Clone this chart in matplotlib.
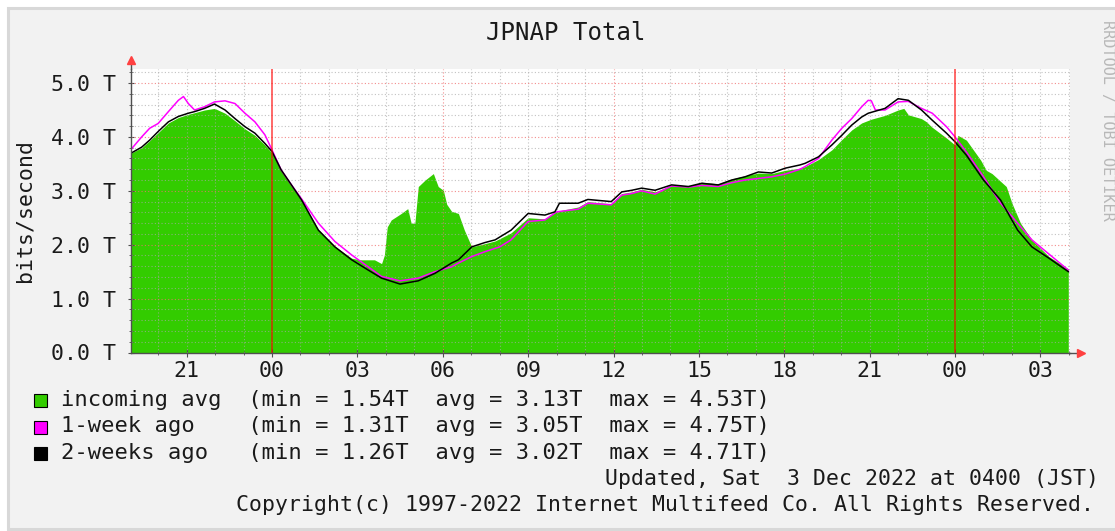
import matplotlib
matplotlib.use("Agg")
import matplotlib.pyplot as plt
from matplotlib.patches import Rectangle

# ---------------- data (hours relative to first midnight, values in Tbit/s) -------------
incoming_hours = [-4.95, -4.58, -4.30, -4.0, -3.64, -3.29, -2.94, -2.72, -2.37, -2.02, -1.65,
                  -1.30, -0.95, -0.60, -0.25, 0.0, 0.32, 0.67, 1.04, 1.63, 2.21, 2.80, 3.1,
                  3.6, 3.85, 3.95, 4.05, 4.19, 4.54, 4.77, 4.89, 5.02, 5.14, 5.38, 5.67,
                  5.84, 6.02, 6.14, 6.31, 6.55, 6.76, 6.96, 7.02, 7.48, 7.84, 8.4, 9.0,
                  9.59, 10.0, 10.76, 11.1, 11.92, 12.29, 12.64, 12.99, 13.46, 14.04, 14.63,
                  15.1, 15.68, 16.15, 16.62, 17.09, 17.56, 18.03, 18.55, 18.73, 19.2, 19.67,
                  20.02, 20.37, 20.72, 21.06, 21.54, 22.0, 22.2, 22.36, 22.82, 23.0, 23.17,
                  23.7, 24.0, 24.1, 24.4, 24.9, 25.1, 25.3, 25.8, 26.0, 26.3, 26.7, 27.3,
                  27.98]
incoming_tbps = [3.70, 3.80, 3.93, 4.08, 4.26, 4.36, 4.42, 4.45, 4.50, 4.53, 4.44,
                 4.30, 4.15, 4.03, 3.85, 3.70, 3.38, 3.10, 2.82, 2.28, 1.97, 1.75, 1.72,
                 1.72, 1.65, 1.81, 2.33, 2.46, 2.58, 2.67, 2.40, 2.40, 3.08, 3.20, 3.32,
                 3.08, 3.01, 2.75, 2.62, 2.58, 2.27, 2.03, 1.96, 2.02, 2.07, 2.22, 2.50,
                 2.48, 2.62, 2.70, 2.80, 2.76, 2.95, 2.98, 3.03, 2.98, 3.10, 3.08,
                 3.16, 3.13, 3.22, 3.28, 3.33, 3.32, 3.38, 3.42, 3.45, 3.58, 3.76,
                 3.95, 4.13, 4.26, 4.33, 4.40, 4.50, 4.53, 4.41, 4.34, 4.28, 4.19,
                 3.98, 3.85, 4.03, 3.94, 3.57, 3.38, 3.32, 3.08, 2.77, 2.40, 2.09, 1.78,
                 1.55]

week1_hours = [-4.95, -4.58, -4.30, -4.0, -3.64, -3.29, -3.11, -2.94, -2.72, -2.37, -2.02,
               -1.65, -1.30, -0.95, -0.60, -0.25, 0.0, 0.32, 0.67, 1.04, 1.63, 2.21, 2.80,
               3.38, 3.85, 4.5, 5.14, 5.73, 6.31, 6.55, 7.02, 7.48, 8.0, 8.4, 9.0, 9.59,
               10.0, 10.76, 11.1, 11.92, 12.29, 12.64, 12.99, 13.46, 14.04, 14.63, 15.1,
               15.68, 16.15, 16.62, 17.09, 17.56, 18.03, 18.55, 18.73, 19.2, 19.67, 20.02,
               20.37, 20.72, 20.95, 21.06, 21.2, 21.54, 22.0, 22.36, 22.82, 23.2, 23.7,
               24.0, 24.4, 25.0, 25.6, 26.2, 26.7, 27.2, 27.98]
week1_tbps = [3.77, 4.00, 4.16, 4.25, 4.47, 4.68, 4.75, 4.62, 4.50, 4.56, 4.65,
              4.67, 4.62, 4.44, 4.28, 4.04, 3.76, 3.39, 3.12, 2.85, 2.40, 2.06, 1.81,
              1.59, 1.41, 1.33, 1.38, 1.50, 1.59, 1.66, 1.78, 1.87, 1.96, 2.09, 2.43, 2.46,
              2.61, 2.66, 2.77, 2.74, 2.92, 2.95, 3.00, 2.94, 3.09, 3.07, 3.10,
              3.08, 3.15, 3.20, 3.23, 3.26, 3.31, 3.40, 3.45, 3.60, 3.94, 4.16,
              4.34, 4.56, 4.68, 4.67, 4.50, 4.50, 4.65, 4.66, 4.53, 4.44, 4.19,
              4.00, 3.72, 3.26, 2.77, 2.40, 2.09, 1.87, 1.53]

week2_hours = [-4.95, -4.58, -4.30, -4.0, -3.64, -3.29, -2.94, -2.72, -2.37, -2.02, -1.65,
               -1.30, -0.95, -0.60, -0.25, 0.0, 0.32, 0.67, 1.04, 1.63, 2.21, 2.80, 3.38,
               3.85, 4.5, 5.14, 5.73, 6.31, 6.55, 7.02, 7.48, 7.84, 8.4, 9.0, 9.59, 9.94,
               10.1, 10.76, 11.1, 11.92, 12.29, 12.64, 12.99, 13.46, 14.04, 14.63, 15.1,
               15.68, 16.15, 16.62, 17.09, 17.56, 18.03, 18.55, 18.73, 19.2, 19.67, 20.02,
               20.37, 20.72, 20.95, 21.54, 22.0, 22.36, 22.82, 23.2, 23.7, 24.0, 24.4,
               25.0, 25.6, 26.2, 26.7, 27.3, 27.98]
week2_tbps = [3.70, 3.81, 3.94, 4.10, 4.28, 4.38, 4.44, 4.47, 4.53, 4.61, 4.50,
              4.34, 4.19, 4.07, 3.88, 3.73, 3.39, 3.12, 2.83, 2.27, 1.96, 1.72, 1.53,
              1.38, 1.27, 1.33, 1.47, 1.66, 1.72, 1.96, 2.04, 2.09, 2.27, 2.58, 2.55, 2.61,
              2.77, 2.77, 2.84, 2.80, 2.98, 3.01, 3.05, 3.01, 3.11, 3.08, 3.14,
              3.11, 3.20, 3.26, 3.35, 3.33, 3.42, 3.48, 3.51, 3.63, 3.85, 4.03,
              4.22, 4.37, 4.44, 4.53, 4.71, 4.68, 4.50, 4.31, 4.07, 3.91, 3.66,
              3.20, 2.83, 2.27, 1.96, 1.75, 1.50]

x_tick_hours = [-3, 0, 3, 6, 9, 12, 15, 18, 21, 24, 27]
x_tick_labels = ["21", "00", "03", "06", "09", "12", "15", "18", "21", "00", "03"]
y_tick_values = [0, 1, 2, 3, 4, 5]
y_tick_labels = ["0.0 T", "1.0 T", "2.0 T", "3.0 T", "4.0 T", "5.0 T"]
midnight_hours = [0, 24]

legend_names = ["incoming avg", "1-week ago", "2-weeks ago"]
legend_min = ["1.54T", "1.31T", "1.26T"]
legend_avg = ["3.13T", "3.05T", "3.02T"]
legend_max = ["4.53T", "4.75T", "4.71T"]

# ---------------- styling ----------------
W, H = 1115, 531
MONO = "DejaVu Sans Mono"
GREEN = "#33CC00"
MAGENTA = "#FF00FF"
BLACK = "#000000"
BG = "#F2F2F2"
TXT = "#1A1A1A"

fig = plt.figure(figsize=(W / 100, H / 100), dpi=100)
fig.patch.set_facecolor("white")
fig.add_artist(Rectangle((7.5 / W, 1 - 528.5 / H), (W + 20) / W, 521 / H,
                         transform=fig.transFigure, facecolor=BG,
                         edgecolor="#D8D8D8", linewidth=2.2, zorder=0))

x0, x1 = -4.954, 28.05
ax_left, ax_right = 131, 1070.3
ax_top, ax_bot = 68.5, 352.5
ax = fig.add_axes([ax_left / W, 1 - ax_bot / H, (ax_right - ax_left) / W, (ax_bot - ax_top) / H])
ax.set_facecolor("white")
ax.set_xlim(x0, x1)
ax.set_ylim(0, 5.27)

# data
ax.fill_between(incoming_hours, 0, incoming_tbps, color=GREEN, linewidth=0, zorder=1)
ax.plot(week1_hours, week1_tbps, color=MAGENTA, linewidth=1.1, zorder=3)
ax.plot(week2_hours, week2_tbps, color=BLACK, linewidth=1.1, zorder=3)

# grid
dots = (0, (1, 2))
for h in range(-4, 29):
    if h in midnight_hours:
        continue
    if h % 6 == 0:
        ax.axvline(h, color="#F07070", linewidth=0.8, linestyle=dots, alpha=0.8, zorder=2)
    else:
        ax.axvline(h, color="#A8A8A8", linewidth=0.8, linestyle=dots, alpha=0.7, zorder=2)
for i in range(1, 27):
    v = i * 0.2
    if i % 5 == 0:
        ax.axhline(v, color="#F07070", linewidth=0.8, linestyle=dots, alpha=0.8, zorder=2)
    else:
        ax.axhline(v, color="#A8A8A8", linewidth=0.8, linestyle=dots, alpha=0.7, zorder=2)
for h in midnight_hours:
    ax.axvline(h, color="#FF0000", linewidth=1.1, alpha=0.75, zorder=4)

# axes / ticks
for s in ["top", "right"]:
    ax.spines[s].set_visible(False)
for s in ["left", "bottom"]:
    ax.spines[s].set_color("#505050")
    ax.spines[s].set_linewidth(1.0)
    ax.spines[s].set_zorder(5)
ax.set_xticks(x_tick_hours)
ax.set_xticklabels(x_tick_labels, family=MONO, fontsize=15.5, color=TXT)
ax.set_xticks(range(-4, 29), minor=True)
ax.set_yticks(y_tick_values)
ax.set_yticklabels(y_tick_labels, family=MONO, fontsize=15.5, color=TXT)
ax.set_yticks([i * 0.2 for i in range(0, 27)], minor=True)
ax.tick_params(axis="x", which="major", direction="inout", length=6, color="#505050", pad=3)
ax.tick_params(axis="x", which="minor", direction="inout", length=3, color="#505050")
ax.tick_params(axis="y", which="major", direction="inout", length=5, color="#505050", pad=8)
ax.tick_params(axis="y", which="minor", direction="inout", length=3, color="#505050")

# axis extensions and arrows
ax.plot([0, 0], [1, 1 + 8 / 284], transform=ax.transAxes, color="#505050", lw=1.0, clip_on=False, zorder=5)
ax.plot([1, 1 + 8 / 939], [0, 0], transform=ax.transAxes, color="#505050", lw=1.0, clip_on=False, zorder=5)
ax.plot([0], [1 + 9 / 284], transform=ax.transAxes, marker="^", color="#FF4040", markersize=6,
        clip_on=False, zorder=6)
ax.plot([1 + 11 / 939], [0], transform=ax.transAxes, marker=">", color="#FF4040", markersize=6,
        clip_on=False, zorder=6)

# texts
fig.text(566 / W, 1 - 33 / H, "JPNAP Total", family=MONO, fontsize=17.3, ha="center", va="center",
         color=TXT)
fig.text(25 / W, 1 - 211 / H, "bits/second", family=MONO, fontsize=15.5, rotation=90,
         ha="center", va="center", color=TXT)
fig.text(1107 / W, 1 - 120 / H, "RRDTOOL / TOBI OETIKER", family=MONO, fontsize=11,
         rotation=270, ha="center", va="center", color="#B8B8B8")

colors = [GREEN, MAGENTA, BLACK]
rows = [400, 426.5, 453]
for name, mn, av, mx, c, yy in zip(legend_names, legend_min, legend_avg, legend_max, colors, rows):
    fig.add_artist(Rectangle((33.5 / W, 1 - (yy + 7) / H), 13 / W, 13 / H, transform=fig.transFigure,
                             facecolor=c, edgecolor="black", linewidth=0.8, zorder=3))
    label = f"{name:<14s}(min = {mn}  avg = {av}  max = {mx})"
    fig.text(61 / W, 1 - yy / H, label, family=MONO, fontsize=15.9, ha="left", va="center",
             color=TXT)

fig.text(1099 / W, 1 - 479 / H, "Updated, Sat  3 Dec 2022 at 0400 (JST)", family=MONO,
         fontsize=15.5, ha="right", va="center", color=TXT)
fig.text(1094 / W, 1 - 505 / H, "Copyright(c) 1997-2022 Internet Multifeed Co. All Rights Reserved.",
         family=MONO, fontsize=15.5, ha="right", va="center", color=TXT)

fig.savefig("out.png", dpi=100, facecolor=fig.get_facecolor())
